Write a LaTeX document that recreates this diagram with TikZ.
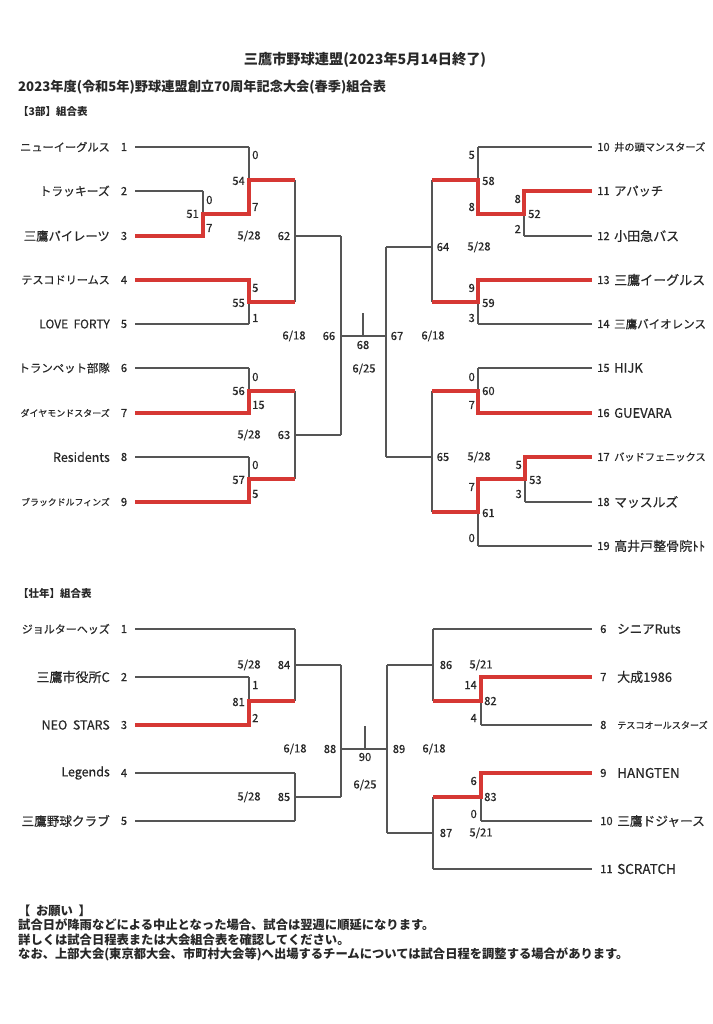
\documentclass[tikz,border=0pt]{standalone}
\usepackage{fontspec}
\setmainfont{Noto Sans CJK JP}
\newfontfamily\medfont[FakeBold=0.4]{Noto Sans CJK JP}
\definecolor{lgray}{RGB}{85,85,85}
\definecolor{wred}{RGB}{214,56,52}
\definecolor{txt}{RGB}{40,40,40}
\newcommand{\fs}[1]{\fontsize{#1}{#1}\selectfont}
\begin{document}
\begin{tikzpicture}[x=1pt,y=-1pt,
 ln/.style={draw=lgray,line width=1.2pt},
 win/.style={draw=wred,line width=3.2pt,line join=miter},
 sc/.style={font=\medfont\fs{11.2},inner sep=0pt,text=txt},
 scL/.style={sc,anchor=east},
 scR/.style={sc,anchor=west},
 nm/.style={inner sep=0pt,text=txt},
 nmL/.style={nm,anchor=east},
 nmR/.style={nm,anchor=west},
 hd/.style={inner sep=0pt,text=txt,anchor=west,font=\bfseries\fs{12}},
 ft/.style={inner sep=0pt,text=txt,anchor=west,font=\bfseries\fs{12.3}},
]
\useasboundingbox[fill=white] (0,0) rectangle (712,1024);

% ---------------- headers
\node[inner sep=0pt,text=txt,font=\bfseries\fs{14.2}] (title) at (365,60) {三鷹市野球連盟(2023年5月14日終了)};
\node[hd,font=\bfseries\fs{13.2}] (sub) at (18,87) {2023年度(令和5年)野球連盟創立70周年記念大会(春季)組合表};
\node[hd,font=\bfseries\fs{10.5}] (sec1) at (18,112) {【3部】組合表};
\node[hd,font=\bfseries\fs{10.5}] (sec2) at (18,593) {【壮年】組合表};

% ---------------- 3部 left teams
\node[nmL,font=\medfont\fs{11.2}] (a1) at (110,147) {ニューイーグルス};
\node[nmL,font=\medfont\fs{11.8}] (a2) at (110,191) {トラッキーズ};
\node[nmL,font=\medfont\fs{12.3}] (a3) at (110,236) {三鷹パイレーツ};
\node[nmL,font=\medfont\fs{11.1}] (a4) at (110,280) {テスコドリームス};
\node[nmL,font=\medfont\fs{12}] (a5) at (110,324) {LOVE\ \ FORTY};
\node[nmL,font=\medfont\fs{11.4}] (a6) at (110,368) {トランペット部隊};
\node[nmL,font=\medfont\fs{9}] (a7) at (110,413) {ダイヤモンドスターズ};
\node[nmL,font=\medfont\fs{12.5}] (a8) at (110,457) {Residents};
\node[nmL,font=\medfont\fs{8.9}] (a9) at (110,502) {ブラックドルフィンズ};
\foreach \n/\y in {1/147,2/191,3/236,4/280,5/324,6/368,7/413,8/457,9/502}
  \node[sc] (an\n) at (124,\y) {\n};

% ---------------- 3部 right teams
\node[nmR,font=\medfont\fs{10.2}] (b10) at (614,147) {井の頭マンスターズ};
\node[nmR,font=\medfont\fs{12.3}] (b11) at (614,191) {アパッチ};
\node[nmR,font=\medfont\fs{13}] (b12) at (614,236) {小田急バス};
\node[nmR,font=\medfont\fs{13}] (b13) at (614,280) {三鷹イーグルス};
\node[nmR,font=\medfont\fs{11.5}] (b14) at (614,324) {三鷹バイオレンス};
\node[nmR,font=\medfont\fs{13}] (b15) at (614,368) {HIJK};
\node[nmR,font=\medfont\fs{13}] (b16) at (614,413) {GUEVARA};
\node[nmR,font=\medfont\fs{10.2}] (b17) at (614,457) {バッドフェニックス};
\node[nmR,font=\medfont\fs{12.8}] (b18) at (614,502) {マッスルズ};
\node[nmR,font=\medfont\fs{13}] (b19) at (614,546) {高井戸整骨院ﾄﾄ};
\foreach \n/\y in {10/147,11/191,12/236,13/280,14/324,15/368,16/413,17/457,18/502,19/546}
  \node[scR] (bn\n) at (597,\y) {\n};

% ---------------- 3部 lines
\draw[ln] (135,147)--(249,147) (135,191)--(203,191) (135,236)--(203,236)
  (203,191)--(203,236) (203,214)--(249,214)
  (249,147)--(249,214) (249,180)--(295,180)
  (135,280)--(249,280) (135,324)--(249,324)
  (249,280)--(249,324) (249,302)--(295,302)
  (295,180)--(295,302) (295,236)--(341,236)
  (135,368)--(249,368) (135,413)--(249,413)
  (249,368)--(249,413) (249,391)--(295,391)
  (135,457)--(249,457) (135,502)--(249,502)
  (249,457)--(249,502) (249,479)--(295,479)
  (295,391)--(295,479) (295,435)--(341,435)
  (341,236)--(341,435) (341,336)--(386,336)
  (363,313)--(363,336)
  (386,247)--(386,457)
  (386,247)--(432,247) (432,180)--(432,302)
  (432,180)--(478,180) (478,147)--(478,214) (478,147)--(592,147)
  (478,214)--(524,214) (524,191)--(524,236) (524,191)--(592,191) (524,236)--(592,236)
  (432,302)--(478,302) (478,280)--(478,324) (478,280)--(592,280) (478,324)--(592,324)
  (386,457)--(432,457) (432,391)--(432,512)
  (432,391)--(478,391) (478,368)--(478,413) (478,368)--(592,368) (478,413)--(592,413)
  (432,512)--(478,512) (478,479)--(478,546) (478,546)--(592,546)
  (478,479)--(525,479) (525,457)--(525,502) (525,457)--(592,457) (525,502)--(592,502);
\draw[win] (135,236)--(203,236)--(203,214)--(249,214)--(249,180)--(295,180);
\draw[win] (135,280)--(249,280)--(249,302)--(295,302);
\draw[win] (135,413)--(249,413)--(249,391)--(295,391);
\draw[win] (135,502)--(249,502)--(249,479)--(295,479);
\draw[win] (432,180)--(478,180)--(478,214)--(524,214)--(524,191)--(592,191);
\draw[win] (432,302)--(478,302)--(478,280)--(592,280);
\draw[win] (432,391)--(478,391)--(478,413)--(592,413);
\draw[win] (432,512)--(478,512)--(478,479)--(525,479)--(525,457)--(592,457);

% ---------------- 3部 labels
\node[scL] (m51) at (199,214) {51}; \node[scR] at (206,200) {0}; \node[scR] at (206,228) {7};
\node[scL] (m54) at (245,181) {54}; \node[scR] at (252,155) {0}; \node[scR] at (252,207) {7};
\node[scL] (m55) at (245,303) {55}; \node[scR] at (252,288) {5}; \node[scR] at (252,318) {1};
\node[scL] (m56) at (245,391) {56}; \node[scR] at (252,377) {0}; \node[scR] at (252,405) {15};
\node[scL] (m57) at (245,480) {57}; \node[scR] at (252,465) {0}; \node[scR] at (252,494) {5};
\node[sc] (m62) at (284,236) {62}; \node[sc] at (249,236) {5/28};
\node[sc] (m63) at (284,435) {63}; \node[sc] at (249,435) {5/28};
\node[sc] (m66) at (329,336) {66}; \node[sc] at (294,336) {6/18};
\node[sc] (m68) at (363,345) {68}; \node[sc] at (364,369) {6/25};
\node[sc] (m67) at (397,336) {67}; \node[sc] at (433,336) {6/18};
\node[sc] (m64) at (443,247) {64}; \node[sc] at (479,247) {5/28};
\node[sc] (m65) at (443,457) {65}; \node[sc] at (479,457) {5/28};
\node[scR] (m58) at (482,181) {58}; \node[scL] at (475,155) {5}; \node[scL] at (475,207) {8};
\node[scR] (m52) at (528,214) {52}; \node[scL] at (521,199) {8}; \node[scL] at (521,229) {2};
\node[scR] (m59) at (482,303) {59}; \node[scL] at (475,288) {9}; \node[scL] at (475,318) {3};
\node[scR] (m60) at (482,391) {60}; \node[scL] at (475,377) {0}; \node[scL] at (475,405) {7};
\node[scR] (m61) at (482,513) {61}; \node[scL] at (475,487) {7}; \node[scL] at (475,538) {0};
\node[scR] (m53) at (529,480) {53}; \node[scL] at (522,465) {5}; \node[scL] at (522,494) {3};

% ---------------- 壮年 teams
\node[nmL,font=\medfont\fs{11}] (c1) at (110,629) {ジョルターヘッズ};
\node[nmL,font=\medfont\fs{13}] (c2) at (110,677) {三鷹市役所C};
\node[nmL,font=\medfont\fs{12.5}] (c3) at (110,725) {NEO\ \ STARS};
\node[nmL,font=\medfont\fs{12.5}] (c4) at (110,773) {Legends};
\node[nmL,font=\medfont\fs{12.6}] (c5) at (110,821) {三鷹野球クラブ};
\foreach \n/\y in {1/629,2/677,3/725,4/773,5/821}
  \node[sc] (cn\n) at (124,\y) {\n};
\node[nmR,font=\medfont\fs{12.5}] (d6) at (617,629) {シニアRuts};
\node[nmR,font=\medfont\fs{13}] (d7) at (617,677) {大成1986};
\node[nmR,font=\medfont\fs{9.1}] (d8) at (617,725) {テスコオールスターズ};
\node[nmR,font=\medfont\fs{13.5}] (d9) at (617,773) {HANGTEN};
\node[nmR,font=\medfont\fs{12.7}] (d10) at (617,821) {三鷹ドジャース};
\node[nmR,font=\medfont\fs{13.5}] (d11) at (617,869) {SCRATCH};
\foreach \n/\y in {6/629,7/677,8/725,9/773,10/821,11/869}
  \node[scR] (dn\n) at (600,\y) {\n};

% ---------------- 壮年 lines
\draw[ln] (135,629)--(295,629)
  (135,677)--(249,677) (135,725)--(249,725)
  (249,677)--(249,725) (249,701)--(295,701)
  (295,629)--(295,701) (295,665)--(341,665)
  (135,773)--(295,773) (135,821)--(295,821)
  (295,773)--(295,821) (295,797)--(341,797)
  (341,665)--(341,797) (341,749)--(387,749)
  (365,726)--(365,749)
  (387,665)--(387,833)
  (387,665)--(433,665) (433,629)--(433,701) (433,629)--(592,629)
  (433,701)--(481,701) (481,677)--(481,725) (481,677)--(592,677) (481,725)--(592,725)
  (387,833)--(433,833) (433,797)--(433,869) (433,869)--(592,869)
  (433,797)--(481,797) (481,773)--(481,821) (481,773)--(592,773) (481,821)--(592,821);
\draw[win] (135,725)--(249,725)--(249,701)--(295,701);
\draw[win] (433,701)--(481,701)--(481,677)--(592,677);
\draw[win] (433,797)--(481,797)--(481,773)--(592,773);

% ---------------- 壮年 labels
\node[scL] (m81) at (245,702) {81}; \node[scR] at (252,685) {1}; \node[scR] at (252,718) {2};
\node[sc] (m84) at (284,665) {84}; \node[sc] at (249,665) {5/28};
\node[sc] (m85) at (284,797) {85}; \node[sc] at (249,797) {5/28};
\node[sc] (m88) at (330,749) {88}; \node[sc] at (295,749) {6/18};
\node[sc] (m90) at (365,757) {90}; \node[sc] at (365,785) {6/25};
\node[sc] (m89) at (399,749) {89}; \node[sc] at (434,749) {6/18};
\node[sc] (m86) at (446,665) {86}; \node[sc] at (481,665) {5/21};
\node[sc] (m87) at (446,833) {87}; \node[sc] at (481,833) {5/21};
\node[scR] (m82) at (484,701) {82}; \node[scL] at (477,685) {14}; \node[scL] at (477,718) {4};
\node[scR] (m83) at (484,797) {83}; \node[scL] at (477,781) {6}; \node[scL] at (477,814) {0};

% ---------------- footer
\node[ft] (f0) at (18,911) {【\ \ お願い\ \ 】};
\node[ft] (f1) at (18,925) {試合日が降雨などによる中止となった場合、試合は翌週に順延になります。};
\node[ft] (f2) at (18,940) {詳しくは試合日程表または大会組合表を確認してください。};
\node[ft] (f3) at (18,954) {なお、上部大会(東京都大会、市町村大会等)へ出場するチームについては試合日程を調整する場合があります。};
\end{tikzpicture}
\end{document}
